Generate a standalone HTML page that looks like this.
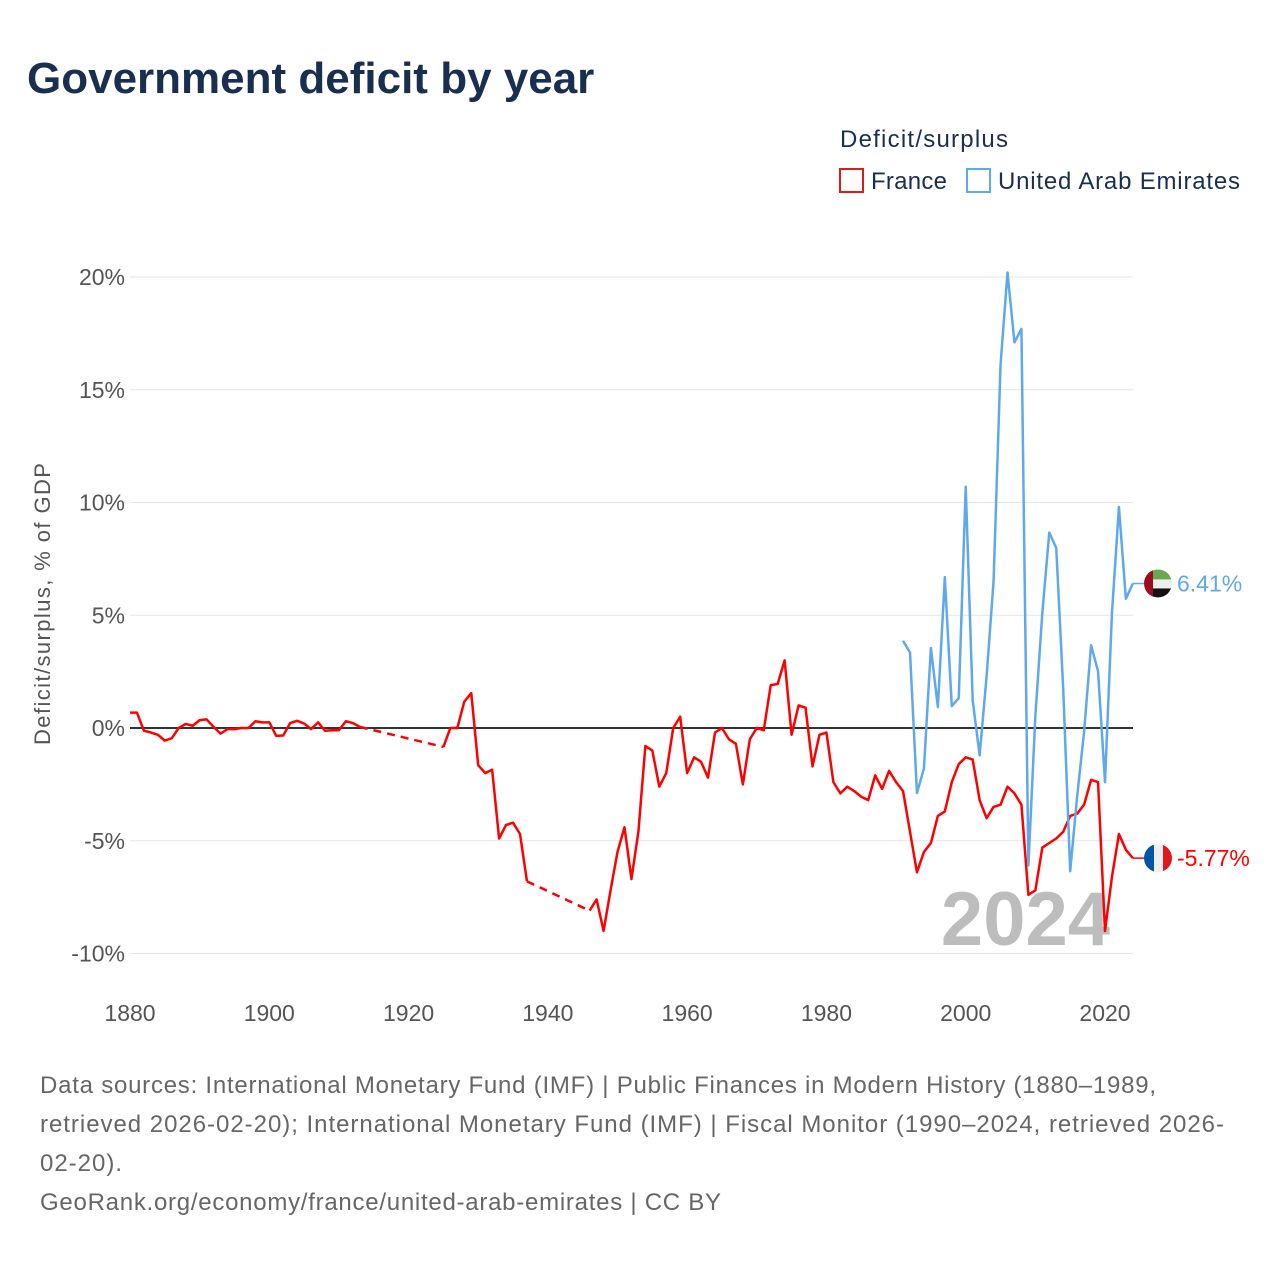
<!DOCTYPE html>
<html><head><meta charset="utf-8"><style>
body{margin:0;background:#fff;font-family:"Liberation Sans",sans-serif}
svg text{font-family:"Liberation Sans",sans-serif}
</style></head><body>
<svg id="c" width="1280" height="1280" viewBox="0 0 1280 1280" xmlns="http://www.w3.org/2000/svg">
<text x="27" y="93" font-size="44" font-weight="bold" fill="#1a2e4f">Government deficit by year</text>
<text x="840" y="147" font-size="24" fill="#1a2e4f" textLength="168">Deficit/surplus</text>
<g><rect x="840" y="169" width="23" height="23" fill="#fff" stroke="#e0191d" stroke-width="2"/><text x="871" y="189" font-size="24" fill="#1a2e4f" textLength="76">France</text></g>
<g><rect x="967" y="169" width="23" height="23" fill="#fff" stroke="#5fa8ea" stroke-width="2"/><text x="998" y="189" font-size="24" fill="#1a2e4f" textLength="242">United Arab Emirates</text></g>
<g id="grid"></g>
<text x="0" y="0" transform="translate(50,604) rotate(-90)" text-anchor="middle" font-size="22" fill="#555" textLength="282">Deficit/surplus, % of GDP</text>
<text x="1110" y="945" text-anchor="end" font-size="76" font-weight="bold" fill="#bdbdbd">2024</text>
<g id="series"></g>
<g id="endlabels"></g>
<g font-size="24" fill="#666">
<text x="40" y="1093" textLength="1116">Data sources: International Monetary Fund (IMF) | Public Finances in Modern History (1880–1989,</text>
<text x="40" y="1132" textLength="1184">retrieved 2026-02-20); International Monetary Fund (IMF) | Fiscal Monitor (1990–2024, retrieved 2026-</text>
<text x="40" y="1171" textLength="82">02-20).</text>
<text x="40" y="1210" textLength="681">GeoRank.org/economy/france/united-arab-emirates | CC BY</text>
</g>
</svg>
<script>
const yTicks=[20,15,10,5,0,-5,-10];
const xTicks=[1880,1900,1920,1940,1960,1980,2000,2020];
const franceYears=[1880,1881,1882,1883,1884,1885,1886,1887,1888,1889,1890,1891,1892,1893,1894,1895,1896,1897,1898,1899,1900,1901,1902,1903,1904,1905,1906,1907,1908,1909,1910,1911,1912,1913,null,1925,1926,1927,1928,1929,1930,1931,1932,1933,1934,1935,1936,1937,null,1946,1947,1948,1949,1950,1951,1952,1953,1954,1955,1956,1957,1958,1959,1960,1961,1962,1963,1964,1965,1966,1967,1968,1969,1970,1971,1972,1973,1974,1975,1976,1977,1978,1979,1980,1981,1982,1983,1984,1985,1986,1987,1988,1989,1990,1991,1992,1993,1994,1995,1996,1997,1998,1999,2000,2001,2002,2003,2004,2005,2006,2007,2008,2009,2010,2011,2012,2013,2014,2015,2016,2017,2018,2019,2020,2021,2022,2023,2024];
const franceValues=[0.68,0.68,-0.12,-0.2,-0.3,-0.56,-0.45,0,0.18,0.1,0.35,0.38,0.05,-0.25,-0.05,-0.05,0,0,0.3,0.25,0.25,-0.35,-0.33,0.22,0.32,0.2,-0.05,0.25,-0.12,-0.1,-0.1,0.3,0.22,0.05,null,-0.84,0,0,1.17,1.55,-1.65,-2.0,-1.85,-4.9,-4.3,-4.2,-4.7,-6.8,null,-8.1,-7.6,-9.0,-7.2,-5.5,-4.4,-6.7,-4.6,-0.8,-1.0,-2.6,-2.0,0,0.5,-2.0,-1.3,-1.5,-2.2,-0.2,0,-0.5,-0.7,-2.5,-0.5,0,-0.1,1.9,1.95,3.0,-0.3,1.0,0.9,-1.7,-0.3,-0.2,-2.4,-2.9,-2.6,-2.8,-3.05,-3.2,-2.1,-2.7,-1.9,-2.4,-2.8,-4.6,-6.4,-5.5,-5.1,-3.9,-3.7,-2.4,-1.6,-1.3,-1.4,-3.2,-4.0,-3.5,-3.4,-2.6,-2.9,-3.4,-7.4,-7.2,-5.3,-5.1,-4.9,-4.6,-3.9,-3.8,-3.4,-2.3,-2.4,-9.0,-6.6,-4.7,-5.4,-5.77];
const uaeYears=[1991,1992,1993,1994,1995,1996,1997,1998,1999,2000,2001,2002,2003,2004,2005,2006,2007,2008,2009,2010,2011,2012,2013,2014,2015,2016,2017,2018,2019,2020,2021,2022,2023,2024];
const uaeValues=[3.87,3.35,-2.88,-1.8,3.55,0.93,6.69,0.97,1.33,10.7,1.23,-1.21,2.3,6.5,16.1,20.2,17.1,17.7,-6.1,0.54,5.1,8.67,7.98,1.73,-6.35,-3.04,-0.16,3.67,2.52,-2.4,5.1,9.8,5.73,6.41];
const NS='http://www.w3.org/2000/svg';
const X=y=>130+(y-1880)*(975/140);
const Y=v=>728-v*(451/20);
function mk(tag,attrs,parent){const e=document.createElementNS(NS,tag);for(const k in attrs)e.setAttribute(k,attrs[k]);parent.appendChild(e);return e;}
const grid=document.getElementById('grid');
yTicks.forEach(t=>{
  const l=mk('line',{x1:130,x2:1133,y1:Y(t),y2:Y(t),stroke:t===0?'#333':'#e6e6e6','stroke-width':t===0?2:1},grid);
  
  
  const tx=mk('text',{x:125,y:Y(t)+8,'text-anchor':'end','font-size':23,fill:'#555'},grid);
  tx.textContent=t+'%';
  
  
});
xTicks.forEach(t=>{
  const tx=mk('text',{x:X(t),y:1021,'text-anchor':'middle','font-size':23,fill:'#555'},grid);
  tx.textContent=t;
  
  
});
const ser=document.getElementById('series');
function draw(years,vals,color,name){
  let segs=[[]];
  years.forEach((y,i)=>{if(y===null){segs.push([]);}else segs[segs.length-1].push([X(y),Y(vals[i])]);});
  segs.forEach((s,i)=>{
    const p=mk('polyline',{points:s.map(q=>q.join(',')).join(' '),fill:'none',stroke:color,'stroke-width':2.5,'stroke-linejoin':'round'},ser);
    
    
    if(i>0){const a=segs[i-1][segs[i-1].length-1],b=s[0];
      const d=mk('line',{x1:a[0],y1:a[1],x2:b[0],y2:b[1],stroke:color,'stroke-width':2.5,'stroke-dasharray':'8,6'},ser);
      
      }
  });
}
draw(franceYears,franceValues,'#ff0000','france');
draw(uaeYears,uaeValues,'#5fa8ea','uae');
const el=document.getElementById('endlabels');
function endLabel(v,color,name,flag){
  const yy=Y(v),x0=X(2024);
  mk('line',{x1:x0,y1:yy,x2:1150,y2:yy,stroke:color,'stroke-width':1.5},el);
  const g=mk('g',{},el);
  
  
  const id='cl'+name;
  const cp=mk('clipPath',{id:id},g);mk('circle',{cx:1158,cy:yy,r:14},cp);
  const gg=mk('g',{'clip-path':'url(#'+id+')'},g);
  if(flag==='fr'){mk('rect',{x:1144,y:yy-14,width:10,height:28,fill:'#0055a4'},gg);mk('rect',{x:1154,y:yy-14,width:9,height:28,fill:'#eee'},gg);mk('rect',{x:1163,y:yy-14,width:9,height:28,fill:'#e0191d'},gg);}
  else{mk('rect',{x:1144,y:yy-14,width:28,height:10,fill:'#6aa84f'},gg);mk('rect',{x:1144,y:yy-4,width:28,height:9,fill:'#eee'},gg);mk('rect',{x:1144,y:yy+5,width:28,height:9,fill:'#111'},gg);mk('rect',{x:1144,y:yy-14,width:9,height:28,fill:'#9b0d1e'},gg);}
  const t=mk('text',{x:1177,y:yy+8,'font-size':23,fill:color},el);
  t.textContent=v.toFixed(2)+'%';
  
  
}
endLabel(uaeValues[uaeValues.length-1],'#5fa8ea','uae','ae');
endLabel(franceValues[franceValues.length-1],'#ff0000','france','fr');
</script>
</body></html>
